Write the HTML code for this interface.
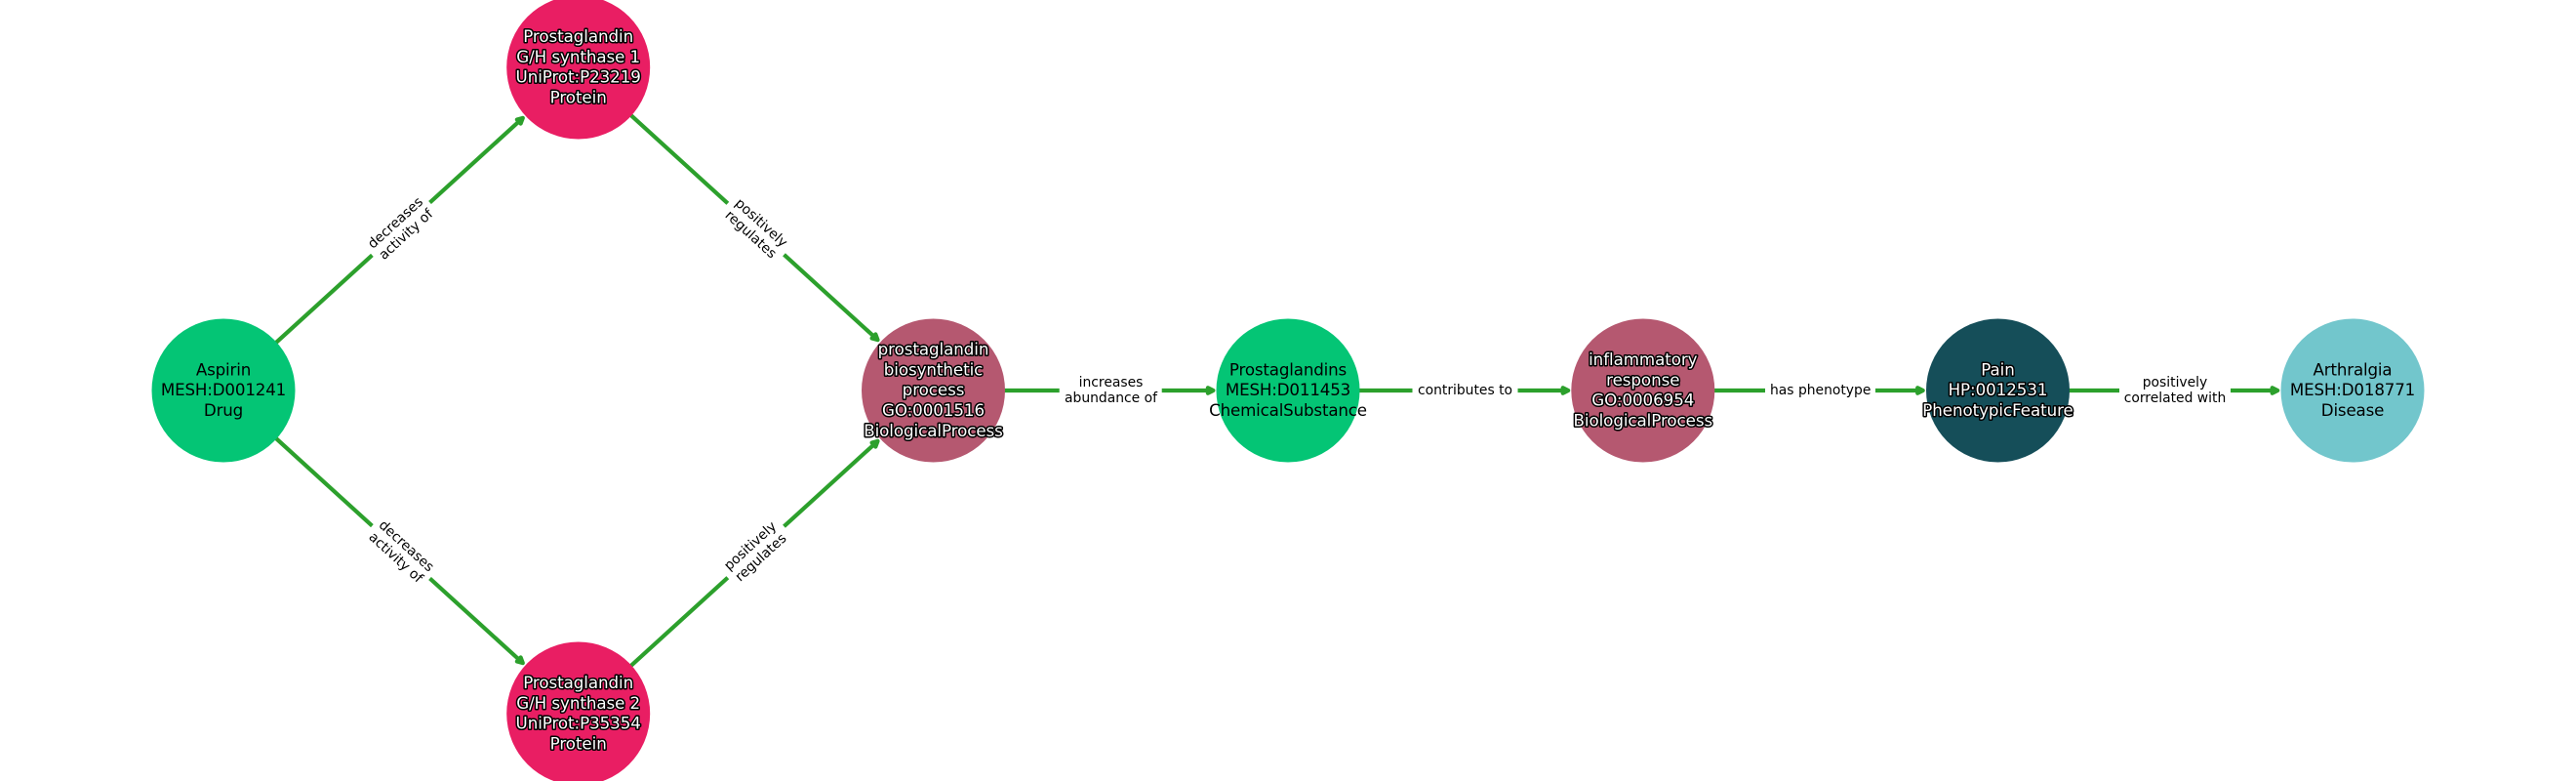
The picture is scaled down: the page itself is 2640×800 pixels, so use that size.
<!DOCTYPE html>
<html>
<head>
<meta charset="utf-8">
<style>
html,body{margin:0;padding:0;background:#fff;width:2640px;height:800px;overflow:hidden}
svg{display:block}
text{font-family:"DejaVu Sans",sans-serif;text-anchor:middle}
.n text{font-size:16.67px;fill:#000;letter-spacing:-0.15px}
.o text{font-size:16.67px;fill:#fff;stroke:#000;stroke-width:3px;paint-order:stroke;stroke-linejoin:round;letter-spacing:-0.05px}
.e line{stroke:#2ca02c;stroke-width:4.17px}
.e polygon{fill:#2ca02c;stroke:#2ca02c;stroke-width:4.17px;stroke-linejoin:round}
.e rect{fill:#fff}
.e text{font-size:13.89px;fill:#000}
</style>
</head>
<body>
<svg width="2640" height="800" viewBox="0 0 2640 800" xmlns="http://www.w3.org/2000/svg">
<g class="e">
<g transform="translate(229,400) rotate(-42.3)"><line x1="0" y1="0" x2="414" y2="0"/><polygon points="416.8,0 411.3,-2.8 411.3,2.8" transform="translate(-2,0)"/><rect x="206" y="-20" width="80" height="40" rx="4"/><text x="245.9" y="-4">decreases</text><text x="245.9" y="12">activity of</text></g>
<g transform="translate(229,400) rotate(42.3)"><line x1="0" y1="0" x2="414" y2="0"/><polygon points="416.8,0 411.3,-2.8 411.3,2.8" transform="translate(-2,0)"/><rect x="206" y="-20" width="80" height="40" rx="4"/><text x="245.9" y="-4">decreases</text><text x="245.9" y="12">activity of</text></g>
<g transform="translate(592.7,69) rotate(42.3)"><line x1="0" y1="0" x2="414" y2="0"/><polygon points="416.8,0 411.3,-2.8 411.3,2.8" transform="translate(-2,0)"/><rect x="207" y="-20" width="78" height="40" rx="4"/><text x="245.9" y="-4">positively</text><text x="245.9" y="12">regulates</text></g>
<g transform="translate(592.7,731) rotate(-42.3)"><line x1="0" y1="0" x2="414" y2="0"/><polygon points="416.8,0 411.3,-2.8 411.3,2.8" transform="translate(-2,0)"/><rect x="207" y="-20" width="78" height="40" rx="4"/><text x="245.9" y="-4">positively</text><text x="245.9" y="12">regulates</text></g>
<g transform="translate(956.7,400)"><line x1="0" y1="0" x2="286" y2="0"/><polygon points="288.7,0 283.2,-2.8 283.2,2.8" transform="translate(-2,0)"/><rect x="129" y="-20" width="105" height="40" rx="4"/><text x="181.8" y="-4">increases</text><text x="181.8" y="12">abundance of</text></g>
<g transform="translate(1320.5,400)"><line x1="0" y1="0" x2="286" y2="0"/><polygon points="288.7,0 283.2,-2.8 283.2,2.8" transform="translate(-2,0)"/><rect x="127" y="-12" width="108" height="24" rx="4"/><text x="181" y="4">contributes to</text></g>
<g transform="translate(1684,400)"><line x1="0" y1="0" x2="286" y2="0"/><polygon points="288.7,0 283.2,-2.8 283.2,2.8" transform="translate(-2,0)"/><rect x="125" y="-12" width="113" height="24" rx="4"/><text x="181.7" y="4">has phenotype</text></g>
<g transform="translate(2047.5,400)"><line x1="0" y1="0" x2="286" y2="0"/><polygon points="288.7,0 283.2,-2.8 283.2,2.8" transform="translate(-2,0)"/><rect x="124.5" y="-20" width="114" height="40" rx="4"/><text x="181.5" y="-4">positively</text><text x="181.5" y="12">correlated with</text></g>
</g>
<circle cx="229" cy="400" r="73.5" fill="#04c575"/>
<circle cx="592.7" cy="69" r="73.5" fill="#e91e63"/>
<circle cx="592.7" cy="731" r="73.5" fill="#e91e63"/>
<circle cx="956.5" cy="400" r="73.5" fill="#b55870"/>
<circle cx="1320" cy="400" r="73.5" fill="#04c575"/>
<circle cx="1683.8" cy="400" r="73.5" fill="#b55870"/>
<circle cx="2047.5" cy="400" r="73.5" fill="#154e59"/>
<circle cx="2411" cy="400" r="73.5" fill="#72c6cc"/>
<g class="n">
<text x="229" y="384.4">Aspirin</text><text x="229" y="405.2">MESH:D001241</text><text x="229" y="426">Drug</text>
<text x="1320" y="384.4">Prostaglandins</text><text x="1320" y="405.2">MESH:D011453</text><text x="1320" y="426">ChemicalSubstance</text>
<text x="2411" y="384.4">Arthralgia</text><text x="2411" y="405.2">MESH:D018771</text><text x="2411" y="426">Disease</text>
</g>
<g class="o">
<text x="592.7" y="43">Prostaglandin</text><text x="592.7" y="63.8">G/H synthase 1</text><text x="592.7" y="84.6">UniProt:P23219</text><text x="592.7" y="105.4">Protein</text>
<text x="592.7" y="705">Prostaglandin</text><text x="592.7" y="725.8">G/H synthase 2</text><text x="592.7" y="746.6">UniProt:P35354</text><text x="592.7" y="767.4">Protein</text>
<text x="956.5" y="363.6">prostaglandin</text><text x="956.5" y="384.4">biosynthetic</text><text x="956.5" y="405.2">process</text><text x="956.5" y="426">GO:0001516</text><text x="956.5" y="446.8">BiologicalProcess</text>
<text x="1683.8" y="374">inflammatory</text><text x="1683.8" y="394.8">response</text><text x="1683.8" y="415.6">GO:0006954</text><text x="1683.8" y="436.4">BiologicalProcess</text>
<text x="2047.5" y="384.4">Pain</text><text x="2047.5" y="405.2">HP:0012531</text><text x="2047.5" y="426">PhenotypicFeature</text>
</g>
</svg>
</body>
</html>
